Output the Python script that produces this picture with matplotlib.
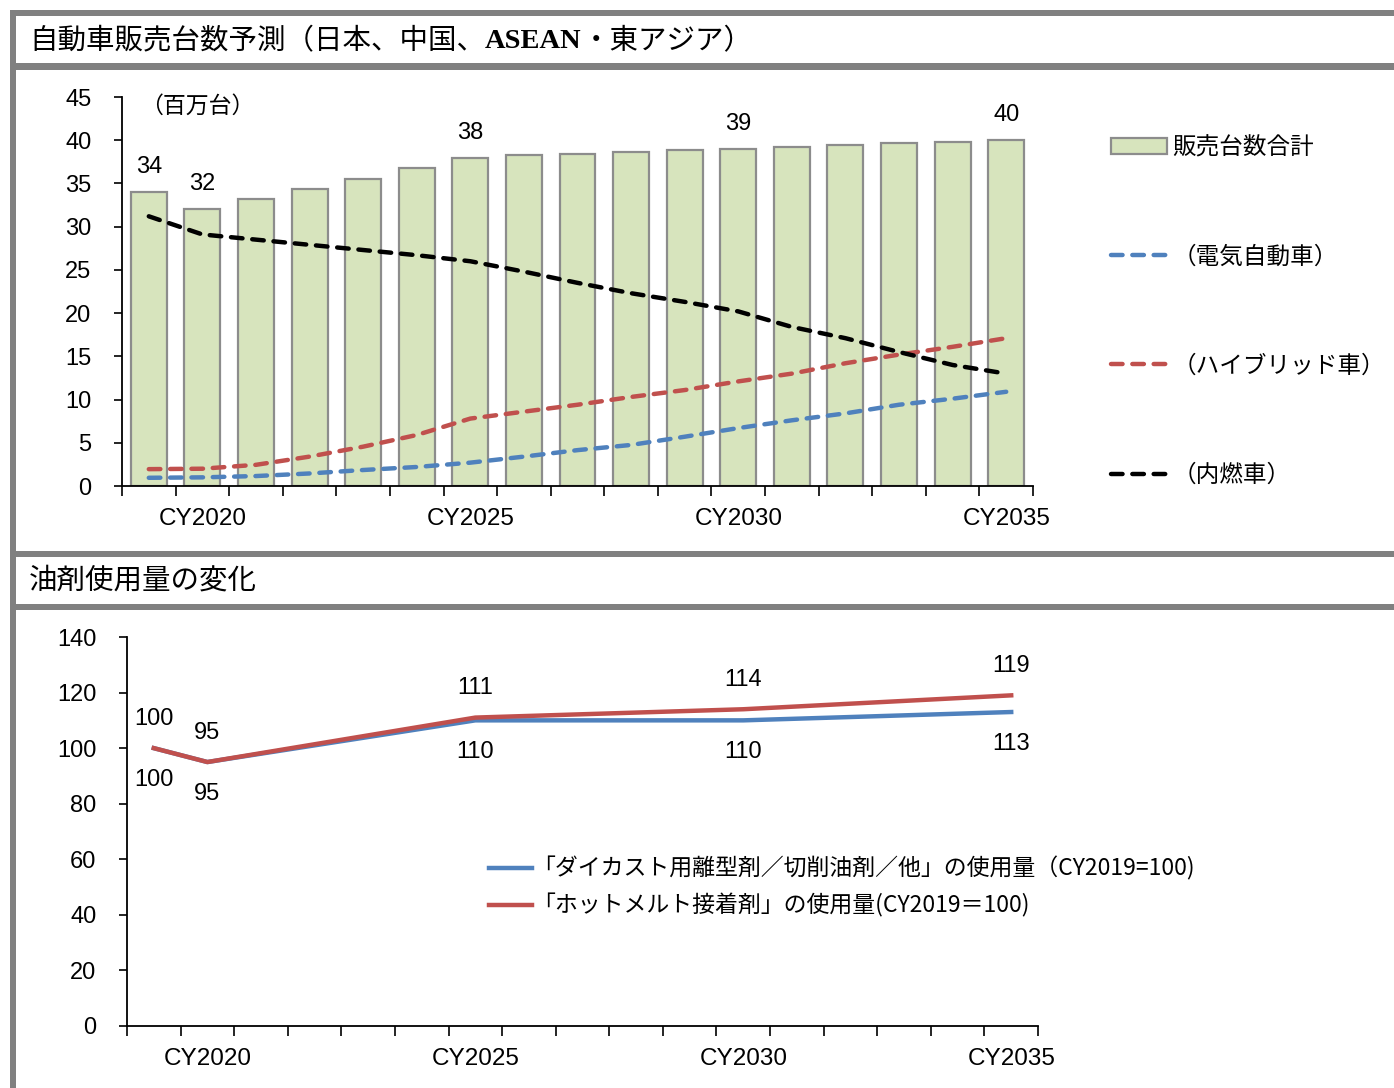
#! /usr/bin/env python3
#
# Vehicle sales forecast (Japan, China, ASEAN/East Asia) and oil agent usage index

import matplotlib

matplotlib.use("Agg")
import matplotlib.pyplot as plt
import numpy as np
from matplotlib.patches import Rectangle

plt.rcParams["font.family"] = ["Liberation Sans", "Noto Sans CJK JP", "DejaVu Sans"]

W, H = 1394, 1088

# Calendar years CY2019 .. CY2035
years = np.arange(2019, 2036)
tick_years = [2020, 2025, 2030, 2035]

# Sales forecast, millions of vehicles
total_sales = [34, 32, 33.2, 34.4, 35.5, 36.8, 38, 38.25, 38.45, 38.65,
               38.85, 39, 39.25, 39.45, 39.65, 39.85, 40]
ev_sales = [0.95, 1.0, 1.15, 1.45, 1.85, 2.2, 2.7, 3.4, 4.15, 4.75,
            5.7, 6.7, 7.6, 8.4, 9.4, 10.1, 10.9]
hybrid_sales = [1.95, 2.0, 2.45, 3.4, 4.55, 5.9, 7.8, 8.6, 9.4, 10.3,
                11.1, 12.1, 13.0, 14.2, 15.2, 16.1, 17.1]
ice_sales = [31.2, 29.1, 28.5, 27.9, 27.3, 26.7, 26.0, 24.8, 23.5, 22.3,
             21.3, 20.2, 18.4, 17.1, 15.5, 14.0, 13.0]
labelled_years = [2019, 2020, 2025, 2030, 2035]

# Usage index (CY2019 = 100)
usage_years = [2019, 2020, 2025, 2030, 2035]
diecast_usage = [100, 95, 110, 110, 113]
hotmelt_usage = [100, 95, 111, 114, 119]

title_top = ["自動車販売台数予測（日本、中国、", "ASEAN", "・東アジア）"]
title_bottom = "油剤使用量の変化"
unit_label = "（百万台）"
series_names = ["販売台数合計", "（電気自動車）", "（ハイブリッド車）", "（内燃車）"]
usage_names = ["「ダイカスト用離型剤／切削油剤／他」の使用量（CY2019=100)",
               "「ホットメルト接着剤」の使用量(CY2019＝100)"]

BAR_FILL = "#D7E4BD"
BAR_EDGE = "#8C8C8C"
BLUE = "#4F81BD"
RED = "#C0504D"
FRAME = "#808080"
CJK = ["Noto Sans CJK JP", "DejaVu Sans"]
DASH = (0, (2.6, 2.2))


def box(x0, y0, x1, y1):
    """Figure-fraction rect from pixel corners (top-left origin)."""
    return [x0 / W, 1 - y1 / H, (x1 - x0) / W, (y1 - y0) / H]


def style_category_axis(ax, pos, labels):
    ax.set_xlim(-0.5, len(years) - 0.5)
    ax.set_xticks(pos)
    ax.set_xticklabels(labels)
    ax.set_xticks(np.arange(-0.5, len(years), 1.0), minor=True)
    ax.tick_params(axis="x", which="major", length=0, pad=16, labelsize=17.5)
    ax.tick_params(axis="x", which="minor", length=7, width=1.2, direction="out")
    ax.tick_params(axis="y", length=6, width=1.2, pad=16, labelsize=17)
    for side in ("top", "right"):
        ax.spines[side].set_visible(False)
    for side in ("left", "bottom"):
        ax.spines[side].set_linewidth(1.3)


fig = plt.figure(figsize=(W / 100, H / 100), dpi=100)

# Grey frame and section bands
for x0, y0, x1, y1 in [(10, 10, 16, H), (10, 10, W, 16), (10, 63, W, 70),
                       (10, 551, W, 557), (10, 604, W, 610)]:
    fig.add_artist(Rectangle((x0 / W, 1 - y1 / H), (x1 - x0) / W, (y1 - y0) / H,
                             transform=fig.transFigure, color=FRAME, lw=0))

# Section titles; ASEAN set in a bold serif face
renderer = fig.canvas.get_renderer()
x = 29 / W
for piece in title_top:
    if piece == "ASEAN":
        t = fig.text(x, 1 - 41 / H, piece, fontsize=20.5, fontweight="bold",
                     family=["Liberation Serif"], va="center")
    else:
        t = fig.text(x, 1 - 41 / H, piece, fontsize=20.5, family=CJK, va="center")
    bb = t.get_window_extent(renderer)
    x = bb.x1 / W
fig.text(29 / W, 1 - 581 / H, title_bottom, fontsize=20.5, family=CJK, va="center")

# --- Sales forecast ---
idx = np.arange(len(years))
ax1 = fig.add_axes(box(122, 97, 1033, 486))
bars = ax1.bar(idx, total_sales, width=0.67, color=BAR_FILL, edgecolor=BAR_EDGE,
               linewidth=1.6, label=series_names[0])
l_ev, = ax1.plot(idx, ev_sales, color=BLUE, lw=3.2, ls=DASH,
                 dash_capstyle="round", label=series_names[1])
l_hy, = ax1.plot(idx, hybrid_sales, color=RED, lw=3.2, ls=DASH,
                 dash_capstyle="round", label=series_names[2])
l_ice, = ax1.plot(idx, ice_sales, color="black", lw=3.2, ls=DASH,
                  dash_capstyle="round", label=series_names[3])
ax1.set_ylim(0, 45)
ax1.set_yticks(np.arange(0, 46, 5))
style_category_axis(ax1, [list(years).index(y) for y in tick_years],
                    [f"CY{y}" for y in tick_years])
for y in labelled_years:
    i = list(years).index(y)
    ax1.annotate(f"{total_sales[i]:.0f}", (i, total_sales[i]), xytext=(0, 18),
                 textcoords="offset points", ha="center", va="center", fontsize=17)
ax1.text(0.02, 0.975, unit_label, transform=ax1.transAxes, fontsize=16.5,
         family=CJK, va="center")

fig.legend(handles=[bars, l_ev, l_hy, l_ice], labels=series_names,
           loc="upper left", bbox_to_anchor=(1090 / W, 1 - 115 / H),
           frameon=False, prop={"family": CJK, "size": 17},
           handlelength=2.35, handleheight=0.7, handletextpad=0.25,
           labelspacing=3.65)

# --- Usage index ---
ax2 = fig.add_axes(box(127, 637, 1038, 1026))
upos = [list(years).index(y) for y in usage_years]
u_blue, = ax2.plot(upos, diecast_usage, color=BLUE, lw=3.2, label=usage_names[0])
u_red, = ax2.plot(upos, hotmelt_usage, color=RED, lw=3.2, label=usage_names[1])
ax2.set_ylim(0, 140)
ax2.set_yticks(np.arange(0, 141, 20))
style_category_axis(ax2, [list(years).index(y) for y in tick_years],
                    [f"CY{y}" for y in tick_years])
for p, b, r in zip(upos, diecast_usage, hotmelt_usage):
    ax2.annotate(f"{r}", (p, r), xytext=(0, 21), textcoords="offset points",
                 ha="center", va="center", fontsize=17)
    ax2.annotate(f"{b}", (p, b), xytext=(0, -23), textcoords="offset points",
                 ha="center", va="center", fontsize=17)

fig.legend(handles=[u_blue, u_red], labels=usage_names, loc="upper left",
           bbox_to_anchor=(468 / W, 1 - 836 / H), frameon=False,
           prop={"family": CJK, "size": 16.5}, handlelength=1.9,
           handletextpad=0.0, labelspacing=0.55)

fig.savefig("out.png", dpi=100)
